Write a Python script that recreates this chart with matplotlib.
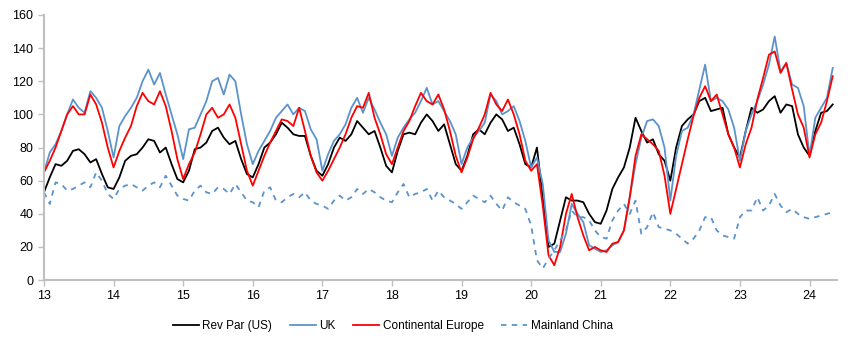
import numpy as np
import matplotlib
matplotlib.use("Agg")
import matplotlib.pyplot as plt

plt.rcParams['font.family'] = ['Liberation Sans', 'DejaVu Sans']

# monthly series, Jan 2013 - May 2024
rev_par_us = [
    53, 62, 70, 69, 72, 78, 79, 76, 71, 73, 64, 56,
    55, 62, 72, 75, 76, 80, 85, 84, 77, 80, 70, 61,
    59, 66, 79, 80, 83, 90, 92, 86, 82, 84, 73, 64,
    62, 70, 80, 83, 88, 95, 92, 88, 87, 87, 75, 66,
    63, 70, 80, 86, 84, 88, 96, 92, 88, 90, 80, 69,
    65, 78, 88, 89, 88, 95, 100, 96, 90, 94, 82, 70,
    66, 75, 88, 91, 88, 95, 100, 97, 90, 92, 82, 70,
    68, 80, 50, 20, 22, 36, 50, 48, 48, 47, 40, 35,
    34, 42, 55, 62, 68, 80, 98, 90, 83, 85, 76, 72,
    60, 80, 93, 97, 100, 108, 110, 102, 103, 104, 88, 80,
    74, 90, 104, 101, 103, 108, 111, 101, 106, 105, 88, 80,
    75, 90, 101, 102, 106,
]
uk = [
    65, 77, 82, 90, 100, 109, 104, 101, 114, 110, 104, 90,
    74, 93, 99, 104, 110, 120, 127, 118, 125, 112, 100, 88,
    73, 91, 92, 100, 108, 120, 122, 112, 124, 120, 100, 82,
    70, 78, 84, 90, 98, 102, 106, 100, 104, 102, 91, 85,
    66, 76, 84, 88, 94, 104, 110, 101, 110, 103, 95, 88,
    75, 86, 92, 97, 101, 108, 116, 106, 108, 102, 96, 88,
    70, 80, 86, 90, 95, 112, 108, 100, 102, 105, 96, 84,
    68, 74, 58, 24, 17, 17, 28, 46, 40, 35, 21, 19,
    17, 18, 21, 23, 30, 50, 70, 86, 96, 97, 93, 80,
    48, 75, 90, 92, 100, 115, 130, 108, 110, 108, 103, 92,
    72, 90, 100, 108, 118, 130, 147, 126, 131, 118, 116, 105,
    75, 98, 104, 110, 128,
]
cont_europe = [
    65, 72, 80, 90, 100, 105, 100, 100, 112, 106, 95, 80,
    68, 78, 86, 93, 105, 113, 108, 106, 114, 105, 90, 73,
    61, 70, 77, 88, 100, 104, 98, 100, 106, 98, 82, 66,
    57, 66, 75, 83, 90, 97, 96, 93, 104, 90, 75, 65,
    60, 66, 73, 80, 88, 98, 105, 104, 113, 98, 88, 76,
    70, 80, 90, 96, 105, 113, 108, 106, 112, 103, 90, 75,
    65, 74, 85, 92, 100, 113, 106, 102, 109, 100, 88, 72,
    66, 70, 45, 15, 9, 20, 40, 52, 38, 27, 18, 20,
    18, 17, 22, 23, 30, 50, 75, 88, 85, 82, 78, 63,
    40, 55, 70, 85, 99, 110, 117, 108, 112, 100, 88, 80,
    68, 82, 92, 109, 122, 136, 138, 125, 131, 115, 100, 92,
    74, 88, 95, 108, 123,
]
mainland_china = [
    53, 46, 59, 58, 54, 55, 57, 59, 56, 65, 60, 52,
    49, 55, 57, 58, 56, 54, 57, 59, 56, 63, 57, 51,
    49, 48, 54, 57, 53, 52, 56, 55, 52, 58, 53, 48,
    47, 44, 54, 56, 48, 47, 50, 52, 50, 53, 48, 46,
    45, 43, 48, 51, 48, 50, 55, 52, 55, 53, 50, 48,
    47, 53, 58, 50, 52, 53, 55, 48, 54, 50, 48, 46,
    43, 47, 51, 49, 47, 51, 46, 42, 50, 47, 45, 43,
    33, 12, 7, 13, 18, 24, 30, 42, 38, 38, 36, 30,
    26, 25, 36, 42, 46, 40, 48, 28, 32, 41, 32, 31,
    30, 28, 25, 22, 25, 30, 38, 38, 30, 27, 26, 25,
    38, 42, 42, 50, 42, 45, 52, 45, 41, 43, 40, 38,
    37, 38, 39, 40, 41,
]
year_ticks = list(range(13, 25))

# x in years since 2000 (13 = Jan 2013)
x = 13 + np.arange(len(rev_par_us)) / 12.0

fig = plt.figure(figsize=(8.52, 3.48), dpi=100)
ax = fig.add_axes([0.0516, 0.195, 0.9304, 0.762])

blue = '#5b93cc'
ax.plot(x, rev_par_us, color='black', lw=1.3, label='Rev Par (US)')
ax.plot(x, uk, color=blue, lw=1.3, label='UK')
ax.plot(x, cont_europe, color='#ff0000', lw=1.3, label='Continental Europe')
ax.plot(x, mainland_china, color=blue, lw=1.3, ls=(0, (3, 3)), label='Mainland China')

ax.set_xlim(13, 24.39)
ax.set_ylim(0, 160)
ax.set_xticks(year_ticks)
ax.set_yticks(range(0, 161, 20))

for s in ['top', 'right']:
    ax.spines[s].set_visible(False)
for s in ['left', 'bottom']:
    ax.spines[s].set_color('#bfbfbf')
    ax.spines[s].set_linewidth(1.5)
ax.tick_params(axis='both', colors='#bfbfbf', length=4, width=1, labelsize=9,
               labelcolor='black')
ax.tick_params(axis='x', pad=3)

fig.legend(loc='center', bbox_to_anchor=(0.461, 0.063), ncol=4, frameon=False,
           fontsize=8.5, handlelength=2.2, handletextpad=0.3, columnspacing=1.5)

fig.savefig('out.png', dpi=100)
